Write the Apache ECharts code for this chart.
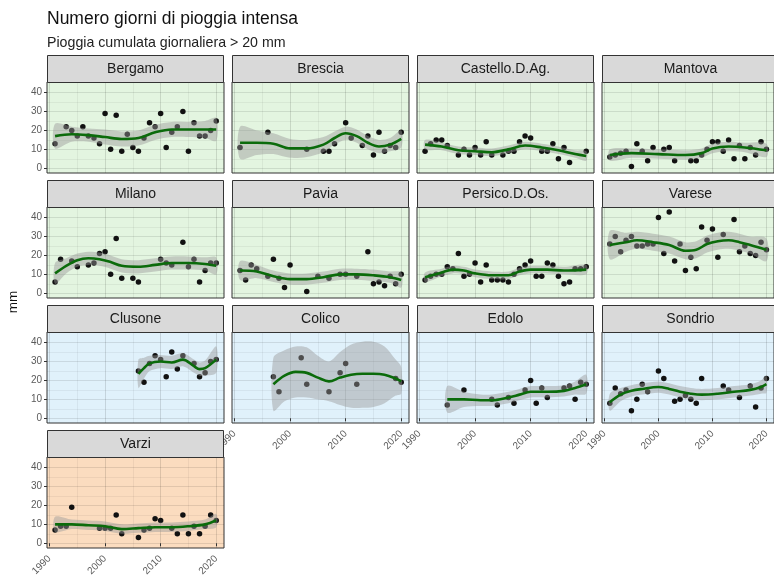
<!DOCTYPE html>
<html>
<head>
<meta charset="utf-8">
<script src="https://cdn.jsdelivr.net/npm/echarts@6.0.0/dist/echarts.min.js"></script>
<style>
html, body { margin: 0; background: #fff; }
#chart { width: 774px; height: 580px; }
</style>
</head>
<body>
<div id="chart"></div>
<script>
// stations, in facet order
var stations = ['Bergamo', 'Brescia', 'Castello.D.Ag.', 'Mantova',
                'Milano', 'Pavia', 'Persico.D.Os.', 'Varese',
                'Clusone', 'Colico', 'Edolo', 'Sondrio', 'Varzi'];
var zones = ['plain', 'plain', 'plain', 'plain', 'plain', 'plain', 'plain', 'plain',
             'alps', 'alps', 'alps', 'alps', 'apennine'];

var xTicks = [1990, 2000, 2010, 2020];
var yTicks = [0, 10, 20, 30, 40];
var xMinor = [1995, 2005, 2015];
var yMinor = [5, 15, 25, 35];

// yearly points [year, days]
var bergamoPoints = [[1991,13],[1993,22],[1994,20],[1995,17],[1996,22],[1997,17],[1998,16],[1999,13],[2000,29],[2001,10],[2002,28],[2003,9],[2004,18],[2005,11],[2006,9],[2007,16],[2008,24],[2009,22],[2010,29],[2011,11],[2012,19],[2013,22],[2014,30],[2015,9],[2016,24],[2017,17],[2018,17],[2019,20],[2020,25]];
var bresciaPoints = [[1991,11],[1996,19],[2003,10],[2006,9],[2007,9],[2008,13],[2010,24],[2011,16],[2013,12],[2014,17],[2015,7],[2016,19],[2017,9],[2018,12],[2019,11],[2020,19]];
var castelloPoints = [[1991,9],[1992,13],[1993,15],[1994,15],[1995,12],[1997,7],[1998,10],[1999,7],[2000,11],[2001,7],[2002,14],[2003,7],[2005,7],[2006,9],[2007,9],[2008,14],[2009,17],[2010,16],[2012,9],[2013,9],[2014,13],[2015,5],[2016,11],[2017,3],[2020,9]];
var mantovaPoints = [[1991,6],[1992,7],[1993,8],[1994,9],[1995,1],[1996,13],[1997,9],[1998,4],[1999,11],[2001,10],[2002,11],[2003,4],[2006,4],[2007,4],[2008,7],[2009,10],[2010,14],[2011,14],[2012,9],[2013,15],[2014,5],[2015,12],[2016,5],[2017,11],[2018,7],[2019,14],[2020,10]];
var milanoPoints = [[1991,6],[1992,18],[1994,17],[1995,14],[1997,15],[1998,16],[1999,21],[2000,22],[2001,10],[2002,29],[2003,8],[2005,8],[2006,6],[2010,18],[2011,16],[2012,15],[2014,27],[2015,14],[2016,18],[2017,6],[2018,12],[2019,16],[2020,16]];
var paviaPoints = [[1991,12],[1992,7],[1993,15],[1994,13],[1996,9],[1997,18],[1998,8],[1999,3],[2000,15],[2003,1],[2005,9],[2007,8],[2009,10],[2010,10],[2012,9],[2014,22],[2015,5],[2016,6],[2017,4],[2018,9],[2019,5],[2020,10]];
var persicoPoints = [[1991,7],[1992,9],[1993,10],[1994,10],[1995,14],[1996,13],[1997,21],[1998,9],[1999,10],[2000,16],[2001,6],[2002,15],[2003,7],[2004,7],[2005,7],[2006,6],[2007,10],[2008,13],[2009,15],[2010,17],[2011,9],[2012,9],[2013,16],[2014,15],[2015,9],[2016,5],[2017,6],[2018,13],[2019,13],[2020,14]];
var varesePoints = [[1991,26],[1992,30],[1993,22],[1994,28],[1995,30],[1996,25],[1997,25],[1998,26],[1999,26],[2000,40],[2001,21],[2002,43],[2003,17],[2004,26],[2005,12],[2006,19],[2007,13],[2008,35],[2009,28],[2010,34],[2011,19],[2012,31],[2014,39],[2015,22],[2016,25],[2017,21],[2018,20],[2019,27],[2020,23]];
var clusonePoints = [[2006,25],[2007,19],[2008,29],[2009,33],[2010,31],[2011,22],[2012,35],[2013,26],[2014,33],[2016,29],[2017,22],[2018,24],[2019,30],[2020,31]];
var colicoPoints = [[1997,22],[1998,14],[2002,32],[2003,18],[2007,14],[2009,24],[2010,29],[2012,18],[2019,21],[2020,19]];
var edoloPoints = [[1995,7],[1998,15],[2003,10],[2004,7],[2006,11],[2007,8],[2009,15],[2010,20],[2011,8],[2012,16],[2013,11],[2016,16],[2017,17],[2018,10],[2019,19],[2020,18]];
var sondrioPoints = [[1991,8],[1992,16],[1993,13],[1994,15],[1995,4],[1996,10],[1997,18],[1998,14],[2000,25],[2001,21],[2003,9],[2004,10],[2005,12],[2006,10],[2007,8],[2008,21],[2012,17],[2013,15],[2015,11],[2017,17],[2018,6],[2019,16],[2020,21]];
var varziPoints = [[1991,7],[1992,9],[1993,9],[1994,19],[1999,8],[2000,8],[2001,8],[2002,15],[2003,5],[2006,3],[2007,7],[2008,8],[2009,13],[2010,12],[2012,8],[2013,5],[2014,15],[2015,5],[2016,9],[2017,5],[2018,9],[2019,15],[2020,12]];

// loess fit [year, fit, lower, upper]
var bergamoSmooth = [[1991,17,10.5,23.5],[1994,18,14,22],[1997,17.5,14,21],[2000,16.5,12.5,20.5],[2003,15.5,11.5,19.5],[2006,16,12,20],[2009,19,15,23],[2012,20.5,16.5,24.5],[2015,20.5,16.5,24.5],[2018,20.5,16,25],[2020,20.5,14.5,26.5]];
var bresciaSmooth = [[1991,13.5,5,22],[1994,13.5,7,20],[1997,13,7.5,18.5],[2000,10.5,5.5,15.5],[2003,10.5,6,15],[2006,12.5,8.5,16.5],[2008,16,12.5,19.5],[2010,18.5,15,22],[2012,17,13.5,20.5],[2014,13.5,10,17],[2016,11.5,8,15],[2018,12.5,9,16],[2020,15.5,11,20]];
var castelloSmooth = [[1991,12.5,10,15],[1994,11.5,9.5,13.5],[1997,9.5,7.5,11.5],[2000,9,7,11],[2003,8.5,6.5,10.5],[2006,10,8,12],[2009,12,10,14],[2012,11,9,13],[2015,9.5,7.5,11.5],[2018,7.5,5.5,9.5],[2020,6.5,4,9]];
var mantovaSmooth = [[1991,7,4,10],[1995,8,5.5,10.5],[2000,7.5,5,10],[2005,7,4.5,9.5],[2008,8,5.5,10.5],[2010,10.5,8,13],[2013,11.5,9,14],[2016,11,8.5,13.5],[2020,9.5,6,13]];
var milanoSmooth = [[1991,10.5,5,16],[1993,14.5,10.5,18.5],[1995,17.5,14,21],[1997,18.5,15,22],[1999,18,14.5,21.5],[2001,16.5,13,20],[2003,14.5,11,18],[2006,14,10.5,17.5],[2009,15,11.5,18.5],[2012,16,12.5,19.5],[2015,16,12.5,19.5],[2018,15.5,12,19],[2020,14.5,10,19]];
var paviaSmooth = [[1991,12,7,17],[1994,11.5,8,15],[1997,9,6,12],[2000,7.5,4.5,10.5],[2003,7.5,4.5,10.5],[2006,8.5,5.5,11.5],[2009,10,7,13],[2012,10,7,13],[2015,9.5,6.5,12.5],[2018,8.5,5.5,11.5],[2020,7,3,11]];
var persicoSmooth = [[1991,8.5,6,11],[1994,11,9,13],[1996,12.5,10.5,14.5],[1998,12,10,14],[2000,10.5,8.5,12.5],[2003,9.5,7.5,11.5],[2006,9.5,7.5,11.5],[2008,11.5,9.5,13.5],[2010,12.5,10.5,14.5],[2013,12.5,10.5,14.5],[2016,12,10,14],[2020,12.5,10,15]];
var vareseSmooth = [[1991,25.5,18,33],[1994,27,22,32],[1996,28,23.5,32.5],[1999,27,22.5,31.5],[2002,25.5,21,30],[2005,22.5,18,27],[2007,23,18.5,27.5],[2009,26,21.5,30.5],[2011,27.5,23,32],[2013,28,23.5,32.5],[2015,27,22.5,31.5],[2017,25.5,21,30],[2020,23,17,29]];
var clusoneSmooth = [[2006,23.5,16,31],[2007,26.5,21,32],[2008,29,25,33],[2010,30,26.5,33.5],[2012,29.5,26,33],[2014,31,27.5,34.5],[2016,27.5,24,31],[2017,26,22.5,29.5],[2018,26.5,22.5,30.5],[2020,31,24,38]];
var colicoSmooth = [[1997,18,4,32],[1999,22.5,9,36],[2001,24.5,11,38],[2003,24,11,37.5],[2005,21.5,10,33],[2007,19.5,9,30],[2009,21.5,7,35],[2011,23,5.5,39],[2013,23.5,5.5,40.5],[2015,23.5,6,40.5],[2017,23,8,38],[2019,21,12,31],[2020,19.5,13,27]];
var edoloSmooth = [[1995,10,3,17],[1998,10,6,14],[2001,9.5,6.5,12.5],[2003,9.5,6.5,12.5],[2006,11,8,14],[2008,12.5,9.5,15.5],[2010,14,11,17],[2013,14,11,17],[2016,14.5,11.5,17.5],[2018,16,12.5,19.5],[2020,18,13,23]];
var sondrioSmooth = [[1991,8.5,4,13],[1993,12.5,9,16],[1995,14.5,11.5,17.5],[1997,15.5,12.5,18.5],[2000,16.5,13.5,19.5],[2002,15.5,12.5,18.5],[2004,14,11,17],[2006,13,10,16],[2008,12.5,9.5,15.5],[2011,13,10,16],[2014,14,11,17],[2017,15,12,18],[2019,16.5,13,20],[2020,18,13.5,22.5]];
var varziSmooth = [[1991,10,6,14],[1994,10,7.5,12.5],[1997,9.5,7,12],[2000,9,6.5,11.5],[2003,7.5,5,10],[2006,8,5.5,10.5],[2009,8.5,6,11],[2012,8.5,6,11],[2015,9,6.5,11.5],[2018,10,7.5,12.5],[2020,12,8.5,15.5]];

var allPoints = [bergamoPoints, bresciaPoints, castelloPoints, mantovaPoints,
                 milanoPoints, paviaPoints, persicoPoints, varesePoints,
                 clusonePoints, colicoPoints, edoloPoints, sondrioPoints, varziPoints];
var allSmooth = [bergamoSmooth, bresciaSmooth, castelloSmooth, mantovaSmooth,
                 milanoSmooth, paviaSmooth, persicoSmooth, vareseSmooth,
                 clusoneSmooth, colicoSmooth, edoloSmooth, sondrioSmooth, varziSmooth];

// layout
var zoneColor = { plain: '#e3f5e0', alps: '#e0f1fb', apennine: '#fbdcbf' };
var colLeft = [47, 232, 417, 602];
var panelW = 177, stripTop = 55, stripH = 27, plotH = 91, rowStep = 125;
var font = 'Liberation Sans, Arial, sans-serif';

var chart = echarts.init(document.getElementById('chart'));

var grids = [], xAxes = [], yAxes = [], series = [], graphics = [];

stations.forEach(function (name, i) {
	var col = i % 4, row = Math.floor(i / 4);
	var sTop = stripTop + row * rowStep;
	var showX = (i + 4 >= stations.length);
	var showY = (col === 0);
	var fit = allSmooth[i];

	grids.push({
		left: colLeft[col], top: sTop + stripH, width: panelW, height: plotH,
		show: true, backgroundColor: zoneColor[zones[i]],
		borderColor: '#333', borderWidth: 1
	});
	xAxes.push({
		type: 'value', gridIndex: i, min: 1989.55, max: 2021.4,
		axisLine: { show: false },
		axisTick: { show: showX, customValues: xTicks, length: 3, lineStyle: { color: '#333' } },
		axisLabel: { show: showX, customValues: xTicks, rotate: 45, margin: 9,
			formatter: function (v) { return String(v); },
			fontSize: 10, color: '#5a5a5a', fontFamily: font },
		splitLine: { show: true, lineStyle: { color: 'rgba(0,0,0,0.12)', width: 1 } }
	});
	yAxes.push({
		type: 'value', gridIndex: i, min: -2.5, max: 45.6,
		axisLine: { show: false },
		axisTick: { show: showY, customValues: yTicks, length: 3, lineStyle: { color: '#333' } },
		axisLabel: { show: showY, customValues: yTicks, margin: 5,
			formatter: function (v) { return String(v); },
			fontSize: 10, color: '#5a5a5a', fontFamily: font },
		splitLine: { show: true, lineStyle: { color: 'rgba(0,0,0,0.1)', width: 1 } }
	});

	var minorLines = xMinor.map(function (v) { return { xAxis: v }; })
		.concat(yMinor.map(function (v) { return { yAxis: v }; }));

	series.push({
		type: 'scatter', xAxisIndex: i, yAxisIndex: i, data: allPoints[i],
		symbolSize: 5.5, itemStyle: { color: '#111', opacity: 1 }, z: 2, silent: true,
		markLine: {
			silent: true, symbol: ['none', 'none'], label: { show: false }, z: 1,
			lineStyle: { color: 'rgba(0,0,0,0.05)', width: 1, type: 'solid' },
			emphasis: { disabled: true }, data: minorLines
		}
	});
	// confidence ribbon
	series.push({
		type: 'custom', xAxisIndex: i, yAxisIndex: i, clip: true, z: 3, silent: true,
		data: [[fit[0][0], fit[0][1]]],
		renderItem: function (params, api) {
			var upper = fit.map(function (d) { return api.coord([d[0], d[3]]); });
			var lower = fit.map(function (d) { return api.coord([d[0], d[2]]); }).reverse();
			return {
				type: 'polygon',
				shape: { points: upper.concat(lower), smooth: 0.3 },
				style: { fill: 'rgba(153,153,153,0.45)' }
			};
		}
	});
	series.push({
		type: 'line', xAxisIndex: i, yAxisIndex: i,
		data: fit.map(function (d) { return [d[0], d[1]]; }),
		smooth: 0.35, symbol: 'none', lineStyle: { color: '#0b6b0b', width: 2.6 }, z: 4, silent: true
	});

	// facet strip
	graphics.push({
		type: 'rect', silent: true, z: 10,
		shape: { x: colLeft[col] + 0.5, y: sTop + 0.5, width: panelW - 1, height: stripH },
		style: { fill: '#d9d9d9', stroke: '#333', lineWidth: 1 }
	});
	graphics.push({
		type: 'text', silent: true, z: 11,
		x: colLeft[col] + panelW / 2, y: sTop + stripH / 2 + 1,
		style: { text: name, fontSize: 14, fontFamily: font, fill: '#1a1a1a',
			align: 'center', verticalAlign: 'middle' }
	});
});

graphics.push({
	type: 'text', silent: true, x: 47, y: 19,
	style: { text: 'Numero giorni di pioggia intensa', fontSize: 17.5, fontFamily: font,
		fill: '#111', verticalAlign: 'middle' }
});
graphics.push({
	type: 'text', silent: true, x: 47, y: 43,
	style: { text: 'Pioggia cumulata giornaliera > 20 mm', fontSize: 14.2, fontFamily: font,
		fill: '#222', verticalAlign: 'middle' }
});
graphics.push({
	type: 'text', silent: true, x: 13, y: 302, rotation: Math.PI / 2,
	style: { text: 'mm', fontSize: 13.5, fontFamily: font, fill: '#111',
		align: 'center', verticalAlign: 'middle' }
});

chart.setOption({
	animation: false,
	backgroundColor: '#fff',
	grid: grids,
	xAxis: xAxes,
	yAxis: yAxes,
	series: series,
	graphic: graphics
});
</script>
</body>
</html>
